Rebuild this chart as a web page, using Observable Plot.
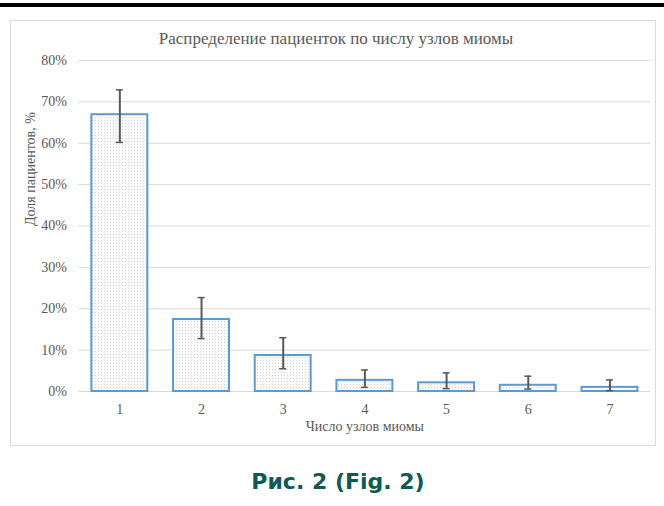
<!DOCTYPE html>
<html>
<head>
<meta charset="utf-8">
<script src="https://cdn.jsdelivr.net/npm/d3@7"></script>
<script src="https://cdn.jsdelivr.net/npm/@observablehq/plot@0.6"></script>
<style>
  html, body { margin: 0; padding: 0; background: #fff; }
  #page { position: relative; width: 664px; height: 506px; overflow: hidden; }
  #topbar { position: absolute; left: 0; top: 3px; width: 664px; height: 4px; background: #000; }
  #frame { position: absolute; left: 10px; top: 20px; width: 644px; height: 424px; border: 1px solid #d9d9d9; }
  #chart { position: absolute; left: 0; top: 0; }
  #title { position: absolute; left: 0; width: 672px; top: 29px; text-align: center;
           font-family: "Liberation Serif", "Times New Roman", serif; font-size: 17px; color: #595959; white-space: nowrap; }
  #caption { position: absolute; left: 0; width: 676px; top: 467px; line-height: 30px; text-align: center;
             font-family: "DejaVu Sans", sans-serif; font-weight: bold; font-size: 22px; color: #0d5a57; white-space: nowrap; }
</style>
</head>
<body>
<div id="page">
  <div id="topbar"></div>
  <div id="frame"><div id="chart"></div></div>
  <div id="title">Распределение пациенток по числу узлов миомы</div>
  <div id="caption">Рис. 2 (Fig. 2)</div>
</div>
<script>
const categories = ["1", "2", "3", "4", "5", "6", "7"];
const shares = [66.9, 17.4, 8.7, 2.7, 2.1, 1.5, 1.0];
const ciLow = [60.2, 12.8, 5.5, 1.0, 0.7, 0.6, 0.2];
const ciHigh = [72.9, 22.7, 13.0, 5.2, 4.5, 3.7, 2.8];
const yTicks = [0, 10, 20, 30, 40, 50, 60, 70, 80];
const yLabel = "Доля пациентов, %";
const xLabel = "Число узлов миомы";

const data = categories.map((c, i) => ({cat: c, v: shares[i], lo: ciLow[i], hi: ciHigh[i]}));

const serif = "Liberation Serif, Times New Roman, serif";
const W = 644, H = 424;
const ml = 67.5, mr = 4.7, mt = 39, mb = 54;
const pad = 0.315;
const step = (W - ml - mr) / categories.length;
const bw = step * (1 - pad);
const capInset = bw / 2 - 3.5;

const chart = Plot.plot({
  width: W,
  height: H,
  marginLeft: ml,
  marginRight: mr,
  marginTop: mt,
  marginBottom: mb,
  style: {fontFamily: serif, fontSize: "14px", color: "#595959", background: "transparent", overflow: "visible"},
  x: {domain: categories, paddingInner: pad, paddingOuter: pad / 2, round: false, label: null},
  y: {domain: [0, 80], label: null},
  marks: [
    Plot.ruleY(yTicks, {stroke: "#d9d9d9", strokeWidth: 1}),
    Plot.barY(data, {x: "cat", y: "v", fill: "url(#dots)", stroke: "#5b9bd5", strokeWidth: 2}),
    Plot.ruleX(data, {x: "cat", y1: "lo", y2: "hi", stroke: "#595959", strokeWidth: 2}),
    Plot.tickY(data, {x: "cat", y: "lo", stroke: "#595959", strokeWidth: 1.5, insetLeft: capInset, insetRight: capInset}),
    Plot.tickY(data, {x: "cat", y: "hi", stroke: "#595959", strokeWidth: 1.5, insetLeft: capInset, insetRight: capInset}),
    Plot.axisY({ticks: yTicks, tickSize: 0, tickPadding: 12, tickFormat: d => d + "%", fontSize: 14, fill: "#595959"}),
    Plot.axisX({tickSize: 0, tickPadding: 13, fontSize: 14, fill: "#595959"}),
    Plot.text([yLabel], {frameAnchor: "left", dx: -48.5, rotate: -90, fontSize: 14, fill: "#595959"}),
    Plot.text([xLabel], {frameAnchor: "bottom", dy: 39, fontSize: 14, fill: "#595959"})
  ]
});

// dotted fill pattern for bars
const ns = "http://www.w3.org/2000/svg";
const defs = document.createElementNS(ns, "defs");
const pat = document.createElementNS(ns, "pattern");
pat.setAttribute("id", "dots");
pat.setAttribute("patternUnits", "userSpaceOnUse");
pat.setAttribute("width", "3");
pat.setAttribute("height", "3");
const bg = document.createElementNS(ns, "rect");
bg.setAttribute("width", "3"); bg.setAttribute("height", "3"); bg.setAttribute("fill", "#f9f9f9");
const dot = document.createElementNS(ns, "rect");
dot.setAttribute("width", "1"); dot.setAttribute("height", "1"); dot.setAttribute("fill", "#d6d6d6");
pat.appendChild(bg); pat.appendChild(dot);
defs.appendChild(pat);
chart.insertBefore(defs, chart.firstChild);

document.getElementById("chart").appendChild(chart);
</script>
</body>
</html>
